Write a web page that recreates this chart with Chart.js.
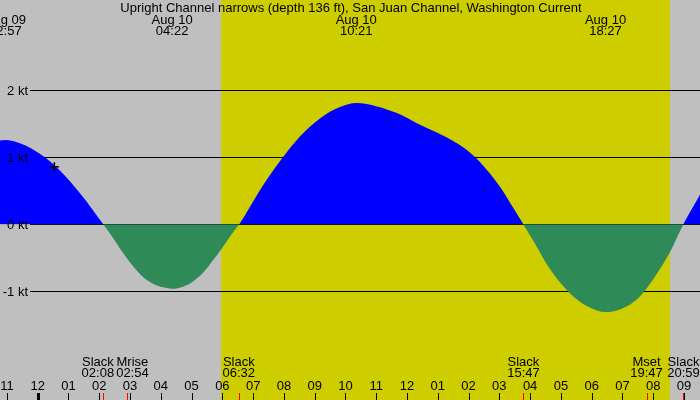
<!DOCTYPE html>
<html>
<head>
    <title>Upright Channel narrows current</title>
    <script src="https://cdn.jsdelivr.net/npm/chart.js"></script>
    <style>
        body { margin: 0; background: #bfbfbf; }
        #wrap { width: 700px; height: 400px; position: relative; }
    </style>
</head>
<body>
    <div id="wrap"><canvas id="tideChart"></canvas></div>

    <script>
        // Jam relatif terhadap tengah malam 10 Agustus (negatif = 9 Agustus)
        const hours = [-1.23, -1.05, -0.58, 0.08, 0.73, 1.38, 2.13, 2.46, 2.78, 3.11, 3.43, 3.76, 4.08, 4.37,
            4.73, 5.06, 5.38, 5.71, 6.03, 6.36, 6.55, 7.22, 7.87, 8.52, 9.17, 9.82, 10.35, 11.02, 11.67, 12.32,
            12.97, 13.62, 14.05, 14.37, 15.02, 15.46, 15.78, 16.16, 16.59, 17.03, 17.46, 17.89, 18.45, 18.98,
            19.52, 20.06, 20.55, 20.98, 21.52];
        const knots = [1.25, 1.26, 1.21, 1.05, 0.80, 0.46, 0, -0.21, -0.43, -0.63, -0.79, -0.89, -0.94, -0.96,
            -0.93, -0.85, -0.72, -0.53, -0.33, -0.11, 0, 0.51, 0.94, 1.31, 1.58, 1.75, 1.81, 1.76, 1.66, 1.51,
            1.37, 1.21, 1.07, 0.93, 0.56, 0.24, 0, -0.29, -0.63, -0.9, -1.10, -1.23, -1.31, -1.26,
            -1.10, -0.78, -0.41, 0, 0.44];

        // Titik waktu sekarang
        const nowHour = 0.54;
        const nowKnots = 0.86;

        // Puncak / lembah arus (label atas)
        const peakDates = ['Aug 09', 'Aug 10', 'Aug 10', 'Aug 10'];
        const peakTimes = ['22:57', '04:22', '10:21', '18:27'];

        // Kejadian di bawah
        const eventNames = ['Slack', 'Mrise', 'Slack', 'Slack', 'Mset', 'Slack'];
        const eventTimes = ['02:08', '02:54', '06:32', '15:47', '19:47', '20:59'];

        const sunrise = '05:58';
        const sunset = '20:33';

        const yTicks = [-1, 0, 1, 2];
        const hourLabels = ['11', '12', '01', '02', '03', '04', '05', '06', '07', '08', '09', '10', '11', '12',
            '01', '02', '03', '04', '05', '06', '07', '08', '09'];
        const firstHour = -1;

        const title = 'Upright Channel narrows (depth 136 ft), San Juan Channel, Washington Current';

        function toH(t, date) {
            const p = t.split(':');
            let h = +p[0] + p[1] / 60;
            if (date === 'Aug 09') h -= 24;
            return h;
        }

        const FONT = '13px "Liberation Sans", Arial, sans-serif';

        const decor = {
            id: 'decor',
            beforeDatasetsDraw(chart) {
                const c = chart.ctx, x = chart.scales.x, y = chart.scales.y;
                c.save();
                // siang hari
                const x1 = Math.round(x.getPixelForValue(toH(sunrise)));
                const x2 = Math.round(x.getPixelForValue(toH(sunset)));
                c.fillStyle = '#cdcd00';
                c.fillRect(x1, 0, x2 - x1, chart.height);
                // garis kt
                c.strokeStyle = '#000';
                c.lineWidth = 1;
                yTicks.forEach(v => {
                    const py = Math.round(y.getPixelForValue(v)) + 0.5;
                    c.beginPath();
                    c.moveTo(30, py);
                    c.lineTo(chart.width, py);
                    c.stroke();
                });
                c.restore();
            },
            afterDatasetsDraw(chart) {
                const c = chart.ctx, x = chart.scales.x, y = chart.scales.y;
                c.save();
                c.font = FONT;
                c.fillStyle = '#000';
                c.textBaseline = 'middle';

                // label kt
                c.textAlign = 'right';
                yTicks.forEach(v => {
                    c.fillText(v + ' kt', 28, y.getPixelForValue(v) + 1);
                });

                // judul
                c.textAlign = 'center';
                c.fillText(title, 351, 8);

                // puncak
                peakTimes.forEach((t, i) => {
                    const px = x.getPixelForValue(toH(t, peakDates[i]));
                    c.fillText(peakDates[i], px, 20);
                    c.fillText(t, px, 31);
                });

                // jam
                hourLabels.forEach((lab, i) => {
                    const h = firstHour + i;
                    const px = x.getPixelForValue(h);
                    c.fillText(lab, px, 386);
                    c.fillRect(Math.round(px) - (h === 0 ? 1 : 0), 393, h === 0 ? 3 : 1, 7);
                });

                // kejadian
                const pos = eventTimes.map(t => x.getPixelForValue(toH(t)));
                const w = eventTimes.map((t, i) => Math.max(c.measureText(t).width, c.measureText(eventNames[i]).width));
                const cx = pos.slice();
                for (let i = 1; i < cx.length; i++) {
                    const gap = (w[i - 1] + w[i]) / 2 + 2;
                    if (cx[i] - cx[i - 1] < gap) {
                        const mid = (cx[i] + cx[i - 1]) / 2;
                        cx[i - 1] = mid - gap / 2;
                        cx[i] = mid + gap / 2;
                    }
                }
                cx.forEach((px, i) => {
                    px = Math.min(px, chart.width - w[i] / 2);
                    c.fillStyle = '#000';
                    c.fillText(eventNames[i], px, 362);
                    c.fillText(eventTimes[i], px, 373);
                    c.fillStyle = '#ff0000';
                    c.fillRect(Math.round(pos[i]), 393, 1, 7);
                });
                c.restore();
            }
        };

        const ctx = document.getElementById('tideChart').getContext('2d');
        const tideChart = new Chart(ctx, {
            type: 'scatter',
            data: {
                datasets: [{
                    label: 'Arus',
                    order: 1,
                    data: hours.map((h, i) => ({ x: h, y: knots[i] })),
                    showLine: true,
                    borderWidth: 0,
                    borderColor: 'rgba(0,0,0,0)',
                    pointRadius: 0,
                    cubicInterpolationMode: 'monotone',
                    fill: { target: 'origin', above: '#0000ff', below: '#2e8b57' }
                }, {
                    label: 'Sekarang',
                    order: 0,
                    data: [{ x: nowHour, y: nowKnots }],
                    pointStyle: 'cross',
                    pointRadius: 4.5,
                    borderColor: '#000',
                    borderWidth: 1.5
                }]
            },
            options: {
                responsive: true,
                maintainAspectRatio: false,
                animation: false,
                devicePixelRatio: 1,
                layout: { padding: 0, autoPadding: false },
                plugins: { legend: { display: false }, tooltip: { enabled: false } },
                scales: {
                    x: { type: 'linear', display: false, min: -1.225, max: 21.52 },
                    y: { display: false, min: -2.622, max: 3.348 }
                }
            },
            plugins: [decor]
        });
    </script>
</body>
</html>
